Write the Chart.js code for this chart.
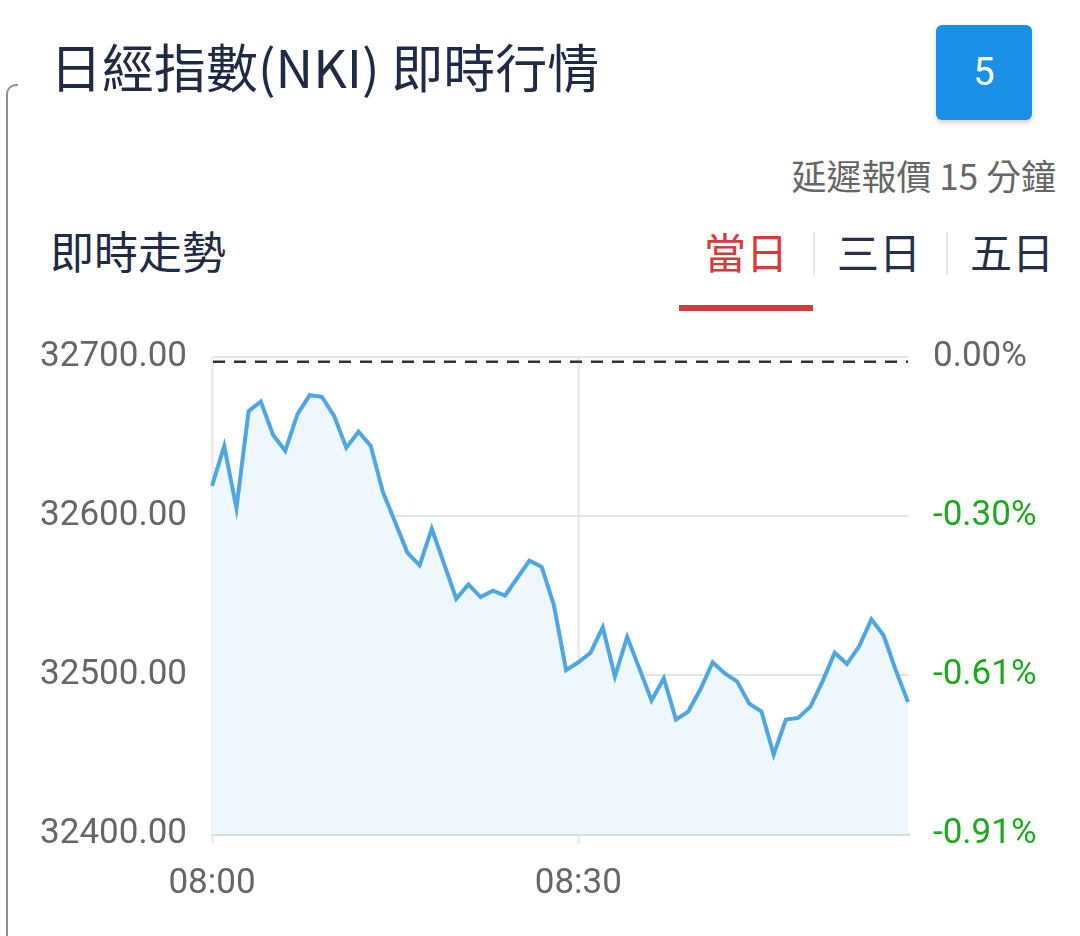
<!DOCTYPE html>
<html>
<head>
<meta charset="utf-8">
<script src="https://cdn.jsdelivr.net/npm/chart.js@4.4.1/dist/chart.umd.min.js"></script>
<style>
  html, body { margin: 0; padding: 0; background: #fff; }
  body { width: 1080px; height: 936px; position: relative; overflow: hidden;
         font-family: "Noto Sans CJK TC", "Noto Sans", Roboto, sans-serif; }
  .abs { position: absolute; white-space: nowrap; }
  #card-edge { left: 6px; top: 84px; width: 10px; height: 900px;
               border-left: 2px solid #8d8d8d; border-top: 2px solid #8d8d8d;
               border-top-left-radius: 10px; }
  #title { left: 50px; top: 40px; font-size: 52px; line-height: 52px; color: #1f2a44; }
  #btn { left: 936px; top: 25px; width: 96px; height: 95px; border-radius: 6px;
         background: #1a8fe6; box-shadow: 0 3px 5px rgba(0,0,0,0.18);
         color: #fff; font-family: Roboto, sans-serif; font-size: 38px;
         line-height: 95px; text-align: center; }
  #delay { right: 24px; top: 157px; font-size: 35px; line-height: 35px; color: #666; }
  #sub { left: 50px; top: 228px; font-size: 44px; line-height: 44px; color: #1f2a44; }
  .tab { top: 230px; font-size: 42px; line-height: 42px; color: #253048; width: 130px; text-align: center; }
  .sep { top: 232px; width: 2px; height: 43px; background: #e6e6e6; }
  #underline { left: 679px; top: 305px; width: 134px; height: 6px; background: #d63b3b; }
  #chart { position: absolute; left: 0; top: 311px; }
</style>
</head>
<body>
<div class="abs" id="card-edge"></div>
<div class="abs" id="title">日經指數(NKI) 即時行情</div>
<div class="abs" id="btn">5</div>
<div class="abs" id="delay">延遲報價 15 分鐘</div>
<div class="abs" id="sub">即時走勢</div>
<div class="abs tab" style="left:681px;color:#d63b3b;">當日</div>
<div class="abs sep" style="left:813px;"></div>
<div class="abs tab" style="left:814px;">三日</div>
<div class="abs sep" style="left:946px;"></div>
<div class="abs tab" style="left:947px;">五日</div>
<div class="abs" id="underline"></div>
<canvas id="chart" width="1080" height="625"></canvas>

<script>
const timeLabels = [
  '08:00','08:01','08:02','08:03','08:04','08:05','08:06','08:07','08:08','08:09',
  '08:10','08:11','08:12','08:13','08:14','08:15','08:16','08:17','08:18','08:19',
  '08:20','08:21','08:22','08:23','08:24','08:25','08:26','08:27','08:28','08:29',
  '08:30','08:31','08:32','08:33','08:34','08:35','08:36','08:37','08:38','08:39',
  '08:40','08:41','08:42','08:43','08:44','08:45','08:46','08:47','08:48','08:49',
  '08:50','08:51','08:52','08:53','08:54','08:55','08:56','08:57'
];
const indexValues = [
  32619, 32644, 32605, 32666, 32672, 32651, 32641, 32664, 32676, 32675,
  32663, 32643, 32653, 32644, 32615, 32596, 32577, 32569, 32592, 32570,
  32548, 32557, 32549, 32553, 32550, 32561, 32572, 32568, 32544, 32503,
  32508, 32514, 32530, 32499, 32524, 32504, 32484, 32498, 32472, 32477,
  32491, 32508, 32501, 32496, 32482, 32477, 32450, 32472, 32473, 32480,
  32496, 32514, 32507, 32518, 32535, 32525, 32503, 32483
];
const prevClose = 32697;
const xTickLabels = ['08:00', '08:30'];
const yTickValues = [32400, 32500, 32600, 32700];
const pctTickLabels = ['-0.91%', '-0.61%', '-0.30%', '0.00%'];

// dashed line for previous close
const prevCloseLine = {
  id: 'prevCloseLine',
  afterDatasetsDraw(chart) {
    const ctx = chart.ctx;
    const area = chart.chartArea;
    const y = chart.scales.y.getPixelForValue(prevClose);
    ctx.save();
    ctx.setLineDash([12, 9]);
    ctx.strokeStyle = '#333';
    ctx.lineWidth = 2.5;
    ctx.beginPath();
    ctx.moveTo(area.left + 1, y);
    ctx.lineTo(area.right, y);
    ctx.stroke();
    ctx.restore();
  }
};

Chart.defaults.font.family = 'Roboto';

new Chart(document.getElementById('chart').getContext('2d'), {
  type: 'line',
  data: {
    labels: timeLabels,
    datasets: [{
      data: indexValues,
      borderColor: '#4ea6e2',
      borderWidth: 4,
      backgroundColor: '#eef7fd',
      fill: 'start',
      pointRadius: 0,
      tension: 0
    }]
  },
  options: {
    responsive: false,
    animation: false,
    devicePixelRatio: 1,
    layout: { padding: { top: 28, left: 0, right: 0, bottom: 0 } },
    plugins: { legend: { display: false }, tooltip: { enabled: false } },
    scales: {
      x: {
        offset: false,
        afterFit(scale) { scale.height = 102; },
        border: { color: '#dddddd', width: 3 },
        grid: {
          lineWidth: 3,
          tickLength: 10,
          color(ctx) {
            if (ctx.index === 0) return '#efefef';
            const lbl = timeLabels[ctx.index];
            return xTickLabels.includes(lbl) ? '#e9ecf1' : 'rgba(0,0,0,0)';
          }
        },
        ticks: {
          autoSkip: false,
          maxRotation: 0,
          padding: 19,
          color: '#666',
          font: { size: 35 },
          callback(val, i) {
            const lbl = timeLabels[i];
            return xTickLabels.includes(lbl) ? lbl : '';
          }
        }
      },
      y: {
        position: 'left',
        min: 32400,
        max: 32700,
        afterBuildTicks(scale) { scale.ticks = yTickValues.map(v => ({ value: v })); },
        afterFit(scale) { scale.width = 212; },
        border: { color: '#eeeeee', width: 3 },
        grid: { color: '#e3e4e7', lineWidth: 2, drawTicks: false },
        ticks: {
          padding: 25,
          color: '#666',
          font: { size: 35 },
          callback: v => v.toFixed(2)
        }
      },
      y1: {
        position: 'right',
        min: 32400,
        max: 32700,
        afterBuildTicks(scale) { scale.ticks = yTickValues.map(v => ({ value: v })); },
        afterFit(scale) { scale.width = 172; },
        border: { display: false },
        grid: { display: false, drawTicks: false },
        ticks: {
          padding: 25,
          font: { size: 35 },
          color(ctx) {
            const i = yTickValues.indexOf(ctx.tick.value);
            return pctTickLabels[i] && pctTickLabels[i].startsWith('-') ? '#1fa71f' : '#666';
          },
          callback(v) {
            return pctTickLabels[yTickValues.indexOf(v)];
          }
        }
      }
    }
  },
  plugins: [prevCloseLine]
});
</script>
</body>
</html>
